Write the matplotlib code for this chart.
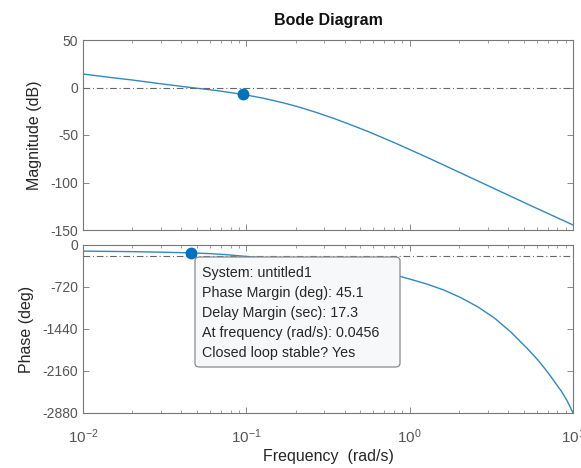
import matplotlib
matplotlib.use("Agg")
from matplotlib import pyplot as plt
from matplotlib.patches import FancyBboxPatch
from matplotlib.ticker import LogLocator, NullFormatter
import numpy as np

plt.rcParams['font.family'] = ['Liberation Sans', 'DejaVu Sans']
plt.rcParams['axes.unicode_minus'] = False
plt.rcParams['mathtext.fontset'] = 'custom'
plt.rcParams['mathtext.rm'] = 'Liberation Sans'


# open-loop response
mag_freq = [0.01, 0.015, 0.02, 0.03, 0.0456, 0.0658, 0.0948, 0.1265, 0.169,
            0.2143, 0.272, 0.344, 0.435, 0.55, 0.695, 0.834, 1.0, 1.19, 1.41,
            2.26, 3.61, 5.79, 10.0]
mag_db = [14.2, 10.4, 7.9, 3.9, 0.0, -3.2, -7.2, -11.2, -16.2,
          -21.0, -26.6, -32.6, -39.2, -46.0, -53.4, -59.2, -65.3, -71.1, -76.9,
          -93.3, -109.6, -126.0, -144.7]

phase_freq = [0.01, 0.02, 0.03, 0.0456, 0.06, 0.075, 0.09, 0.12, 0.2, 0.3,
              0.45, 0.6, 0.75, 0.88, 1.01, 1.29, 1.626, 2.06, 2.61, 3.30,
              4.19, 5.26, 6.10, 7.0, 8.47, 9.2, 10.0]
phase_deg = [-105, -114, -123, -134.9, -148, -165, -185, -215, -270, -330,
             -400, -455, -500, -541, -587, -674, -774, -903, -1060, -1250,
             -1499, -1777, -1972, -2181, -2503, -2668, -2878]

# datatip points
gm_tip = (0.0948, -7.2)
pm_tip = (0.0456, -134.9)
tip_lines = ["System: untitled1",
             "Phase Margin (deg): 45.1",
             "Delay Margin (sec): 17.3",
             "At frequency (rad/s): 0.0456",
             "Closed loop stable? Yes"]

mag_ticks = [50, 0, -50, -100, -150]
phase_ticks = [0, -720, -1440, -2160, -2880]
freq_ticks = [0.01, 0.1, 1, 10]
freq_labels = [r'$\mathregular{10^{-2}}$', r'$\mathregular{10^{-1}}$',
               r'$\mathregular{10^{0}}$', r'$\mathregular{10^{1}}$']

W, H = 581, 468
line_c = '#3088c2'
tip_c = '#0072bd'
edge_c = '#777777'
txt_c = '#262626'
tick_c = '#555555'


def fx(px):
    return px / W


def fy(py):
    return 1 - py / H


fig = plt.figure(figsize=(W / 100, H / 100), dpi=100)
ax_m = fig.add_axes([fx(83), fy(230), fx(573 - 83), (230 - 40) / H])
ax_p = fig.add_axes([fx(83), fy(413), fx(573 - 83), (413 - 245) / H])

for ax in (ax_m, ax_p):
    ax.set_xscale('log')
    ax.set_xlim(0.01, 10)
    ax.xaxis.set_major_locator(LogLocator(base=10, numticks=10))
    ax.xaxis.set_minor_locator(LogLocator(base=10, subs=np.arange(2, 10), numticks=10))
    ax.xaxis.set_minor_formatter(NullFormatter())
    ax.tick_params(which='both', direction='in', top=True, right=True,
                   colors=edge_c, labelcolor=tick_c, labelsize=10)
    ax.tick_params(which='major', length=4, width=0.6)
    ax.tick_params(which='minor', length=2.5, width=0.5)
    for s in ax.spines.values():
        s.set_color(edge_c)
        s.set_linewidth(0.8)

# magnitude
ax_m.plot(mag_freq, mag_db, color=line_c, lw=1.0)
ax_m.axhline(0, color='#666666', lw=0.8, ls=(0, (6, 2.5, 1, 2.5)))
ax_m.plot(*gm_tip, 'o', color=tip_c, ms=7.5, zorder=5)
ax_m.set_ylim(-150, 50)
ax_m.set_yticks(mag_ticks)
ax_m.set_xticks(freq_ticks)
ax_m.set_xticklabels([])
ax_m.set_ylabel('Magnitude (dB)', fontsize=11.5, color=txt_c)
ax_m.yaxis.set_label_coords(-0.084, 0.5)
ax_m.set_title('Bode Diagram', fontsize=11.5, fontweight='bold', color='#111111', pad=11)

# phase
ax_p.plot(phase_freq, phase_deg, color=line_c, lw=1.0)
ax_p.axhline(-180, color='#666666', lw=0.8, ls=(0, (6, 2.5, 1, 2.5)))
ax_p.plot(*pm_tip, 'o', color=tip_c, ms=7.5, zorder=5, clip_on=False)
ax_p.set_ylim(-2880, 0)
ax_p.set_yticks(phase_ticks)
ax_p.set_xticks(freq_ticks)
ax_p.set_xticklabels(freq_labels, fontsize=11)
ax_p.tick_params(axis='x', which='major', pad=10.5)
ax_p.set_ylabel('Phase (deg)', fontsize=11.5, color=txt_c)
ax_p.yaxis.set_label_coords(-0.101, 0.5)
ax_p.set_xlabel('Frequency  (rad/s)', fontsize=11.5, color=txt_c, labelpad=2)

# datatip box
box = FancyBboxPatch((fx(195), fy(367)), fx(400 - 195), (367 - 257) / H,
                     boxstyle='round,pad=0,rounding_size=0.008',
                     transform=fig.transFigure, fc='#f7f8fa', ec='#8a8a8a',
                     lw=0.9, zorder=10)
fig.add_artist(box)
for i, s in enumerate(tip_lines):
    fig.text(fx(202), fy(272.7 + 20.2 * i), s, fontsize=10.3, color=txt_c,
             va='center', ha='left', zorder=11)

fig.savefig('out.png', dpi=100)
